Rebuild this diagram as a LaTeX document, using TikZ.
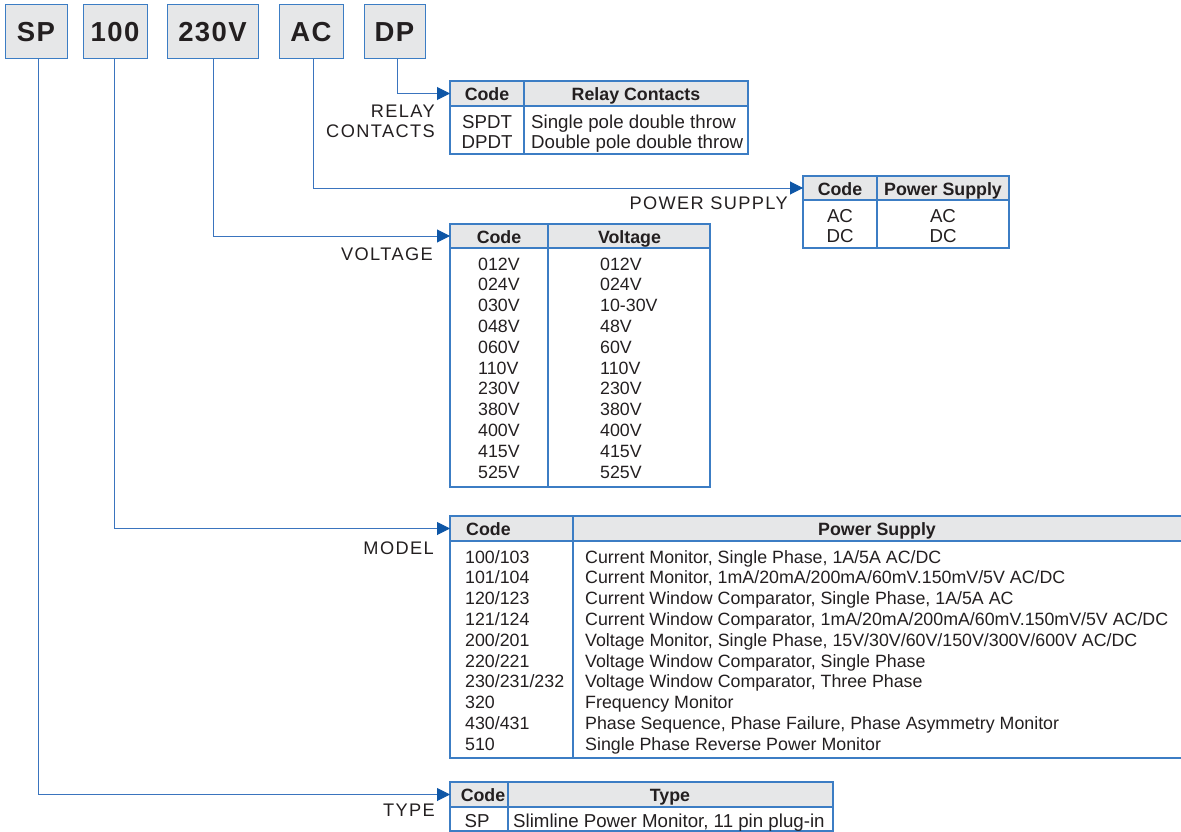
\documentclass[tikz,border=0pt]{standalone}
\usepackage{fontspec}
\setmainfont{Liberation Sans}
\newfontfamily\capsfam[LetterSpace=7.7]{Liberation Sans}
\newfontfamily\keyfam[LetterSpace=5]{Liberation Sans}
\usetikzlibrary{arrows.meta,positioning}
\definecolor{cbox}{HTML}{E6E7E8}
\definecolor{cboxd}{HTML}{3C7DC4}
\definecolor{clink}{HTML}{3A74BE}
\definecolor{carrow}{HTML}{0E56A6}
\definecolor{ctext}{HTML}{231F20}
\newcommand{\cellsize}{\fontsize{18.7}{20.8}\selectfont}
\newcommand{\smallcell}{\fontsize{17.8}{20.8}\selectfont}
\newcommand{\hd}{\fontsize{17.8}{20.8}\selectfont\bfseries}

\begin{document}
\begin{tikzpicture}[x=1pt, y=-1pt,
  key/.style={draw=cboxd, fill=cbox, line width=1pt, inner sep=0pt, outer sep=0pt,
              minimum height=54pt, text=ctext, font=\keyfam\bfseries\fontsize{27.5}{30}\selectfont},
  hrow/.style={draw=cboxd, fill=cbox, line width=1.2pt, inner sep=0pt, outer sep=0pt, anchor=north west},
  frame/.style={draw=cboxd, line width=1.2pt, inner sep=0pt, outer sep=0pt, anchor=north west},
  grid/.style={draw=cboxd, line width=1.2pt},
  htxt/.style={inner sep=0pt, font=\hd, text=ctext, anchor=base},
  cell/.style={inner sep=0pt, font=\cellsize, text=ctext},
  scell/.style={inner sep=0pt, font=\smallcell, text=ctext},
  lbl/.style={inner sep=0pt, font=\capsfam\fontsize{18.2}{20}\selectfont, text=ctext},
  link/.style={draw=clink, line width=1pt, -{Triangle[length=13pt, width=13pt, color=carrow]}},
]
\useasboundingbox (0,0) rectangle (1181,832);
\clip (0,0) rectangle (1181,832);

% ------------------------------------------------------------ code boxes
\node[key, minimum width=62pt] (sp) at (36,32) {SP};
\node[key, minimum width=64pt] (model) at (115,32) {100};
\node[key, minimum width=91pt] (volt) at (212.5,32) {230V};
\node[key, minimum width=64pt] (supply) at (311,32) {AC};
\node[key, minimum width=61pt] (contacts) at (394.5,32) {DP};

% ------------------------------------------------------------ relay contacts
\node[hrow, minimum width=298pt, minimum height=25pt] (relayhd) at (450,81) {};
\node[frame, minimum width=298pt, minimum height=48pt] (relaybd) at (450,106) {};
\draw[grid] (524,81) -- (524,154);
\node[htxt] (relayc) at (487,101) {Code};
\node[htxt] (relayt) at (636,101) {Relay Contacts};
\node[cell, anchor=north] (relaycodes) at (487,113.4) {%
  \begin{tabular}{@{}c@{}}SPDT\\ DPDT\end{tabular}};
\node[cell, anchor=north west] (relaytexts) at (531,113.4) {%
  \begin{tabular}{@{}l@{}}Single pole double throw\\ Double pole double throw\end{tabular}};
\node[lbl, anchor=north east] (relaylbl) at (435,103.7) {%
  \begin{tabular}{@{}r@{}}RELAY\\ CONTACTS\end{tabular}};
\draw[link] ([xshift=2.5pt]contacts.south) |- (relayhd.west);

% ------------------------------------------------------------ power supply
\node[hrow, minimum width=206pt, minimum height=24pt] (supplyhd) at (803,176) {};
\node[frame, minimum width=206pt, minimum height=48pt] (supplybd) at (803,200) {};
\draw[grid] (877,176) -- (877,248);
\node[htxt] (supplyc) at (840,195) {Code};
\node[htxt] (supplyt) at (943,195) {Power Supply};
\node[cell, anchor=north] (supplycodes) at (840,207.4) {%
  \begin{tabular}{@{}c@{}}AC\\ DC\end{tabular}};
\node[cell, anchor=north] (supplytexts) at (943,207.4) {%
  \begin{tabular}{@{}c@{}}AC\\ DC\end{tabular}};
\node[lbl, anchor=base east] (supplylbl) at (788,209) {POWER SUPPLY};
\draw[link] ([xshift=2pt]supply.south) |- (supplyhd.west);

% ------------------------------------------------------------ voltage
\node[hrow, minimum width=260pt, minimum height=24pt] (volthd) at (450,224) {};
\node[frame, minimum width=260pt, minimum height=239pt] (voltbd) at (450,248) {};
\draw[grid] (548,224) -- (548,487);
\node[htxt] (voltc) at (499,243) {Code};
\node[htxt] (voltt) at (629.5,243) {Voltage};
\node[scell, anchor=north west] (voltcodes) at (478,255.4) {%
  \begin{tabular}{@{}l@{}}012V\\ 024V\\ 030V\\ 048V\\ 060V\\ 110V\\ 230V\\ 380V\\ 400V\\ 415V\\ 525V\end{tabular}};
\node[scell, anchor=north west] (volttexts) at (600,255.4) {%
  \begin{tabular}{@{}l@{}}012V\\ 024V\\ 10-30V\\ 48V\\ 60V\\ 110V\\ 230V\\ 380V\\ 400V\\ 415V\\ 525V\end{tabular}};
\node[lbl, anchor=base east] (voltlbl) at (433,260) {VOLTAGE};
\draw[link] ([xshift=0.5pt]volt.south) |- (volthd.west);

% ------------------------------------------------------------ model
\node[hrow, minimum width=745pt, minimum height=25pt] (modelhd) at (450,516) {};
\node[frame, minimum width=745pt, minimum height=217pt] (modelbd) at (450,541) {};
\draw[grid] (573,516) -- (573,758);
\node[htxt, anchor=base west] (modelc) at (466,535) {Code};
\node[htxt] (modelt) at (877,535) {Power Supply};
\node[scell, anchor=north west] (modelcodes) at (465,548.4) {%
  \begin{tabular}{@{}l@{}}100/103\\ 101/104\\ 120/123\\ 121/124\\ 200/201\\ 220/221\\
  230/231/232\\ 320\\ 430/431\\ 510\end{tabular}};
\node[scell, anchor=north west] (modeltexts) at (585,548.4) {%
  \begin{tabular}{@{}l@{}}Current Monitor, Single Phase, 1A/5A AC/DC\\
  Current Monitor, 1mA/20mA/200mA/60mV.150mV/5V AC/DC\\
  Current Window Comparator, Single Phase, 1A/5A AC\\
  Current Window Comparator, 1mA/20mA/200mA/60mV.150mV/5V AC/DC\\
  Voltage Monitor, Single Phase, 15V/30V/60V/150V/300V/600V AC/DC\\
  Voltage Window Comparator, Single Phase\\
  Voltage Window Comparator, Three Phase\\
  Frequency Monitor\\
  Phase Sequence, Phase Failure, Phase Asymmetry Monitor\\
  Single Phase Reverse Power Monitor\end{tabular}};
\node[lbl, anchor=base east] (modellbl) at (434,554) {MODEL};
\draw[link] ([xshift=-1pt]model.south) |- (modelhd.west);

% ------------------------------------------------------------ type
\node[hrow, minimum width=383pt, minimum height=25pt] (typehd) at (450,782) {};
\node[frame, minimum width=383pt, minimum height=24pt] (typebd) at (450,807) {};
\draw[grid] (508,782) -- (508,831);
\node[htxt] (typec) at (483,801) {Code};
\node[htxt] (typet) at (670,801) {Type};
\node[cell, anchor=north] (typecodes) at (477,812.4) {%
  \begin{tabular}{@{}c@{}}SP\end{tabular}};
\node[cell, anchor=north west] (typetexts) at (513,812.4) {%
  \begin{tabular}{@{}l@{}}Slimline Power Monitor, 11 pin plug-in\end{tabular}};
\node[lbl, anchor=base east] (typelbl) at (435,816.7) {TYPE};
\draw[link] ([xshift=2pt]sp.south) |- (typehd.west);
\end{tikzpicture}
\end{document}
